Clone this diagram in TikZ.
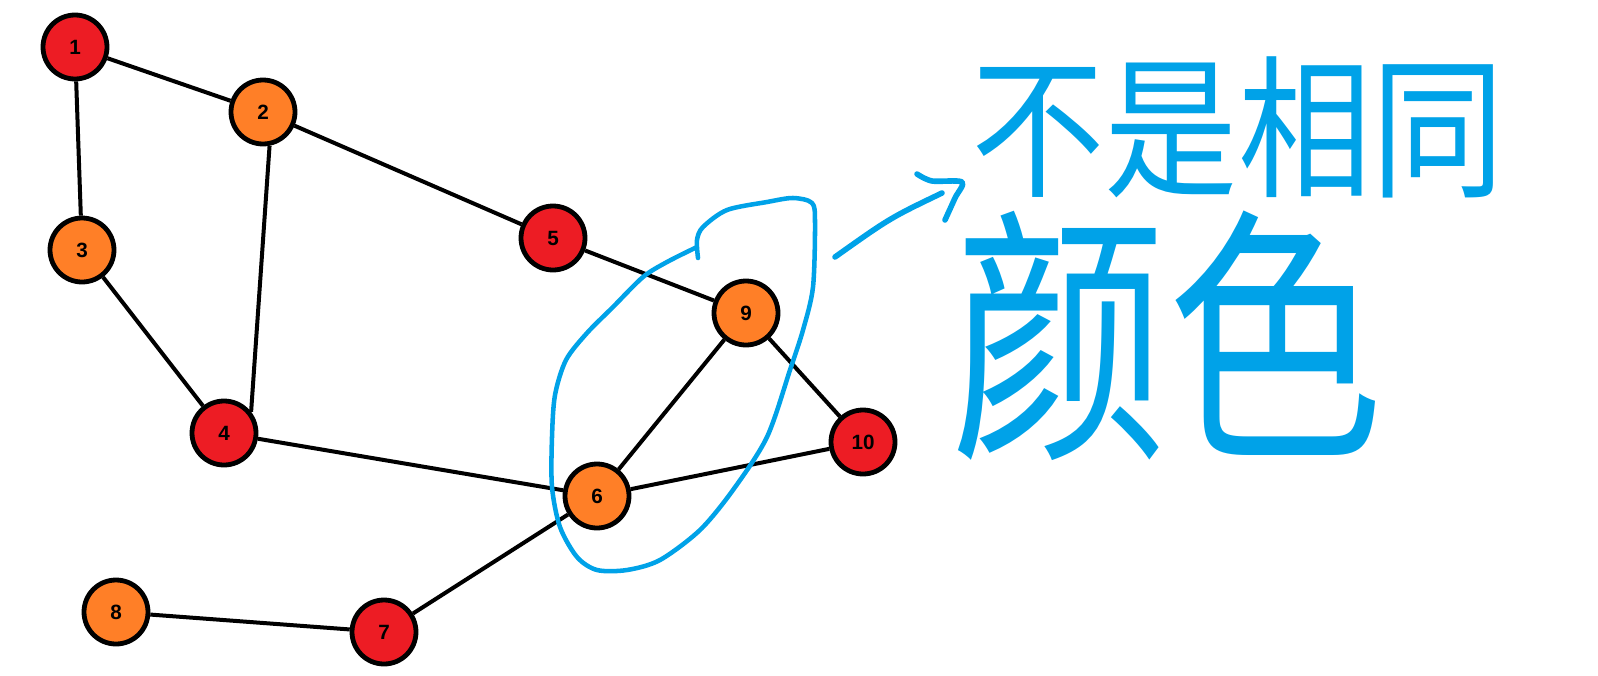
\documentclass[tikz,border=0pt]{standalone}
\usepackage{fontspec}
\setmainfont{Liberation Sans}
\newfontfamily\cjk{Noto Sans CJK SC}
\usepackage{xcolor}
\definecolor{paintred}{HTML}{ED1C24}
\definecolor{paintorange}{HTML}{FF7F27}
\definecolor{paintblue}{HTML}{00A2E8}

\begin{document}
\begin{tikzpicture}[x=0.75pt, y=-0.75pt,
        vertex/.style={circle, draw=black, line width=3.6pt, minimum size=48pt, inner sep=0pt, font=\fontsize{15.5}{15.5}\selectfont\bfseries},
        link/.style={line width=3pt},
        pen/.style={draw=paintblue, line width=3.4pt, line cap=round, line join=round}]
    \useasboundingbox (0,0) rectangle (1598,675);
    \foreach \n/\x/\y/\c in {1/75/47/paintred, 2/263/112/paintorange, 3/82/250/paintorange,
                            4/224/433/paintred, 5/553/238/paintred, 6/597/496/paintorange,
                            7/384/632/paintred, 8/116/612/paintorange, 9/746/313/paintorange,
                            10/863/442/paintred} {
        \node[vertex, fill=\c] (n\n) at (\x,\y) {\n};
    }
    \foreach \a/\b in {1/2, 1/3, 2/5, 3/4, 4/6, 5/9, 6/9, 9/10, 6/10, 6/7, 7/8} {
        \draw[link] (n\a) -- (n\b);
    }
    \draw[link] (n2.-79) -- (n4.38);
    % hand drawn loop round 6 and 9
    \draw[pen] plot[smooth, tension=0.5] coordinates {(698,258) (697,240) (703,227) (727,210) (767,202) (793,198)
        (812,203) (815,222) (813,287) (803,330) (790,370) (767,437) (733,490) (700,530) (660,560) (627,570)
        (597,570) (577,557) (560,527) (552,487) (552,437) (555,395) (566,360) (587,333) (613,307) (643,277)
        (667,262) (697,247)};
    % arrow
    \coordinate (tail) at (835,257);
    \coordinate (tip) at (942,193);
    \draw[pen, line width=4.2pt] (tail) .. controls (890,218) .. (tip);
    \draw[pen, line width=4.2pt] plot[smooth, tension=0.5] coordinates {(917,174) (932,181) (962,182) (955,198) (945,220)};
    \node[text=paintblue, font=\cjk\fontsize{100}{100}\selectfont, inner sep=0pt] (same) at (1238,127) {\scalebox{1}[1.15]{不是相同}};
    \node[text=paintblue, font=\cjk\fontsize{162}{162}\selectfont, inner sep=0pt] (colour) at (1167,336) {\scalebox{1}[1.25]{颜色}};
\end{tikzpicture}
\end{document}
